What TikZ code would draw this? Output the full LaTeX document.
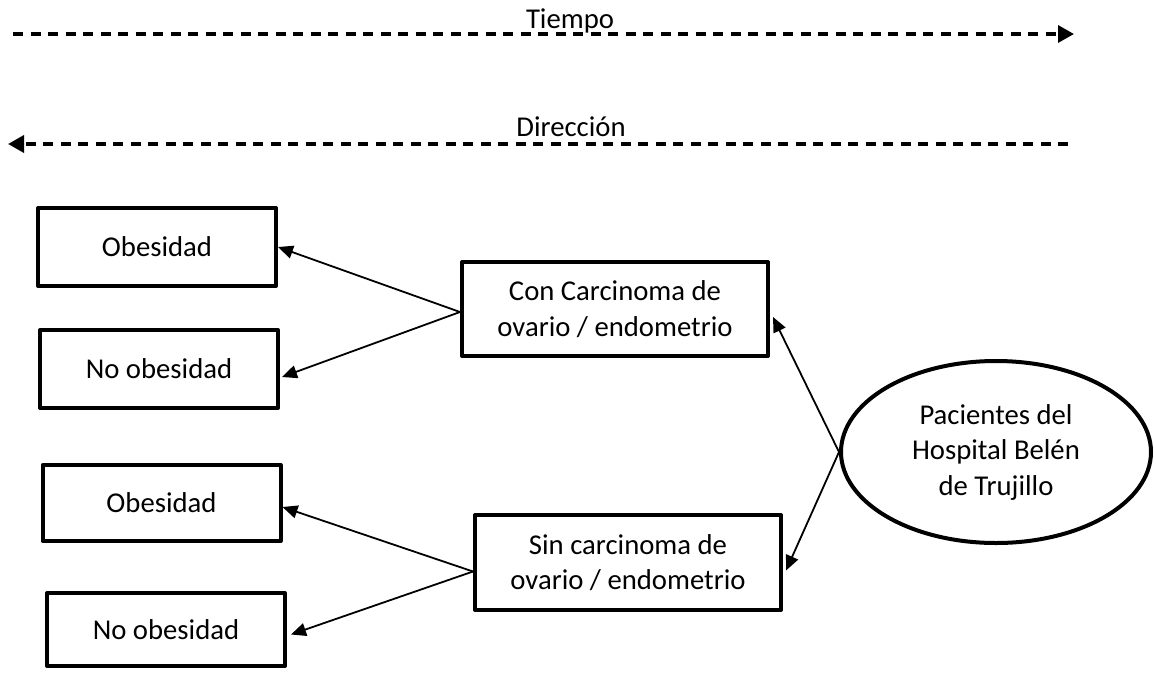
\documentclass[tikz,border=0pt]{standalone}
\usepackage{fontspec}
\setmainfont{Carlito}
\usetikzlibrary{shapes.geometric,arrows.meta}

\begin{document}
\begin{tikzpicture}[x=1pt, y=-1pt,
	font=\fontsize{28.7}{35.5}\selectfont,
	caja/.style={draw, rectangle, line width=4pt, line join=round, inner sep=0pt, align=center, minimum width=238pt, minimum height=78pt},
	grupo/.style={caja, minimum width=306pt, minimum height=94pt},
	flecha/.style={-{Triangle[length=15pt,width=13pt]}, line width=1.8pt},
	eje/.style={-{Triangle[length=16pt,width=17pt]}, line width=3.5pt, dash pattern=on 10pt off 7.5pt}]
	\useasboundingbox (0,0) rectangle (1156,672);

	\coordinate (t0) at (13, 34);
	\coordinate (t1) at (1074, 34);
	\coordinate (d0) at (1068, 144);
	\coordinate (d1) at (8, 144);
	\draw[eje] (t0) -- (t1);
	\draw[eje] (d0) -- (d1);
	\node[anchor=base] (tiempo) at (570, 28) {Tiempo};
	\node[anchor=base] (direccion) at (571, 136) {Dirección};

	\node[caja] (ob1) at (157, 247) {Obesidad};
	\node[caja] (nob1) at (159, 369) {No obesidad};
	\node[caja, minimum height=76pt] (ob2) at (161.5, 503) {Obesidad};
	\node[caja, minimum height=73pt] (nob2) at (166, 629.5) {No obesidad};

	\node[grupo] (con) at (615, 309) {Con Carcinoma de\\ovario / endometrio};
	\node[grupo, minimum height=95pt] (sin) at (628, 562.5) {Sin carcinoma de\\ovario / endometrio};

	\node[draw, ellipse, line width=4pt, inner sep=0pt, minimum width=310pt, minimum height=182pt, align=center] (pac) at (996, 452) {Pacientes del\\Hospital Belén\\de Trujillo};

	\coordinate (conw) at ([yshift=-3pt]con.west);
	\coordinate (sinw) at ([yshift=-9pt]sin.west);
	\coordinate (nob1e) at ([xshift=2pt,yshift=-8pt]nob1.east);
	\coordinate (nob2e) at ([xshift=4pt,yshift=-5pt]nob2.east);
	\coordinate (ob2e) at ([yshift=-4pt]ob2.east);
	\coordinate (cone) at ([xshift=3pt,yshift=-8pt]con.east);
	\coordinate (sine) at ([xshift=3pt,yshift=-8pt]sin.east);

	\draw[flecha] (conw) -- (ob1.east);
	\draw[flecha] (conw) -- (nob1e);
	\draw[flecha] (sinw) -- (ob2e);
	\draw[flecha] (sinw) -- (nob2e);
	\draw[flecha] (pac.west) -- (cone);
	\draw[flecha] (pac.west) -- (sine);

\end{tikzpicture}
\end{document}
